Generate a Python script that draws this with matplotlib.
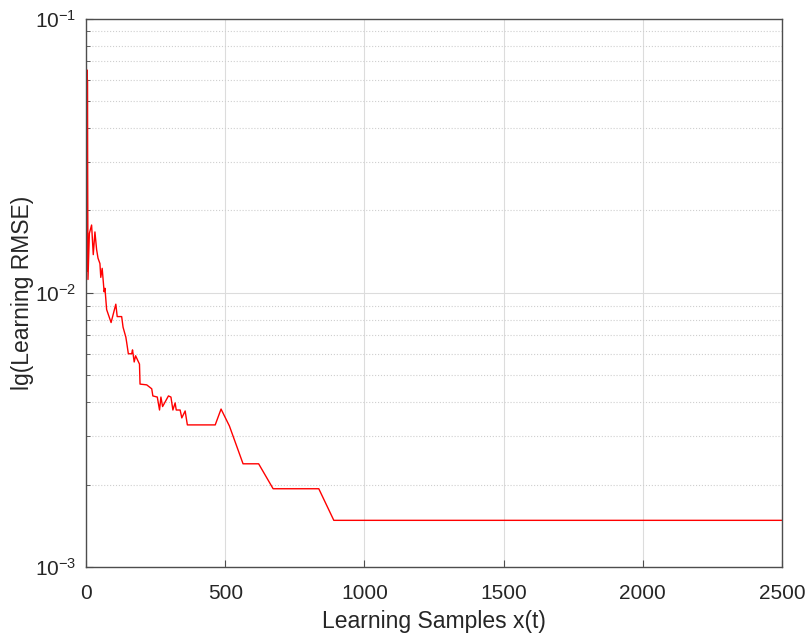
import matplotlib
matplotlib.use('Agg')
import matplotlib.pyplot as plt
from matplotlib.ticker import LogLocator, LogFormatterMathtext, MultipleLocator, NullFormatter

plt.rcParams['font.family'] = ['Liberation Sans', 'DejaVu Sans']
plt.rcParams['mathtext.fontset'] = 'custom'
plt.rcParams['mathtext.rm'] = 'Liberation Sans'
plt.rcParams['mathtext.default'] = 'regular'

# learning curve
samples = [0, 1, 2, 3, 4, 5, 7, 12, 20, 26, 32, 38, 43, 50, 53, 58, 65, 68,
           74, 90, 107, 112, 128, 133, 143, 146, 152, 164, 167, 173, 178,
           192, 194, 218, 236, 240, 256, 264, 269, 275, 296, 305, 312, 320,
           324, 338, 344, 356, 364, 464, 485, 515, 564, 620, 672, 836, 890,
           2500]
rmse = [0.0156, 0.0679, 0.0130, 0.0652, 0.0120, 0.0600, 0.0112, 0.0165,
        0.0177, 0.0138, 0.0167, 0.0144, 0.0134, 0.0128, 0.0114, 0.0123,
        0.0101, 0.0104, 0.0087, 0.0078, 0.0091, 0.0082, 0.0082, 0.0075,
        0.0069, 0.0066, 0.0060, 0.0060, 0.0062, 0.0056, 0.0059, 0.0055,
        0.00465, 0.00462, 0.00447, 0.00421, 0.00417, 0.00374, 0.00417,
        0.00385, 0.00421, 0.00417, 0.00374, 0.00397, 0.00374, 0.00374,
        0.0035, 0.00371, 0.0033, 0.0033, 0.00377, 0.00327, 0.00238,
        0.00238, 0.00193, 0.00193, 0.00148, 0.00148]

txt = '#262626'

fig = plt.figure(figsize=(8.07, 6.38), dpi=100)
ax = fig.add_axes([0.1066, 0.1113, 0.8625, 0.859])

ax.plot(samples, rmse, color='#ff0000', linewidth=1.0)

ax.set_yscale('log')
ax.set_xlim(0, 2500)
ax.set_ylim(1e-3, 1e-1)
ax.xaxis.set_major_locator(MultipleLocator(500))
ax.yaxis.set_major_locator(LogLocator(base=10, numticks=5))
ax.yaxis.set_major_formatter(LogFormatterMathtext())
ax.yaxis.set_minor_locator(LogLocator(base=10, subs=range(2, 10), numticks=20))
ax.yaxis.set_minor_formatter(NullFormatter())

ax.grid(True, which='major', color='#dcdcdc', linestyle='-', linewidth=0.8)
ax.grid(True, which='minor', axis='y', color='#cfcfcf', linestyle=':', linewidth=0.8)
ax.set_axisbelow(True)

for sp in ax.spines.values():
    sp.set_color('#4d4d4d')
    sp.set_linewidth(1.0)

ax.tick_params(which='major', direction='in', length=5, width=0.8,
               colors='#4d4d4d', labelcolor=txt, labelsize=15)
ax.tick_params(axis='x', which='major', pad=12)
ax.tick_params(axis='y', which='major', pad=7)
ax.tick_params(which='minor', direction='in', length=3, width=0.6, colors='#4d4d4d')

ax.set_xlabel('Learning Samples x(t)', fontsize=16.5, color=txt, labelpad=5)
ax.set_ylabel('lg(Learning RMSE)', fontsize=16.5, color=txt, labelpad=1)

fig.savefig('out.png', dpi=100)
